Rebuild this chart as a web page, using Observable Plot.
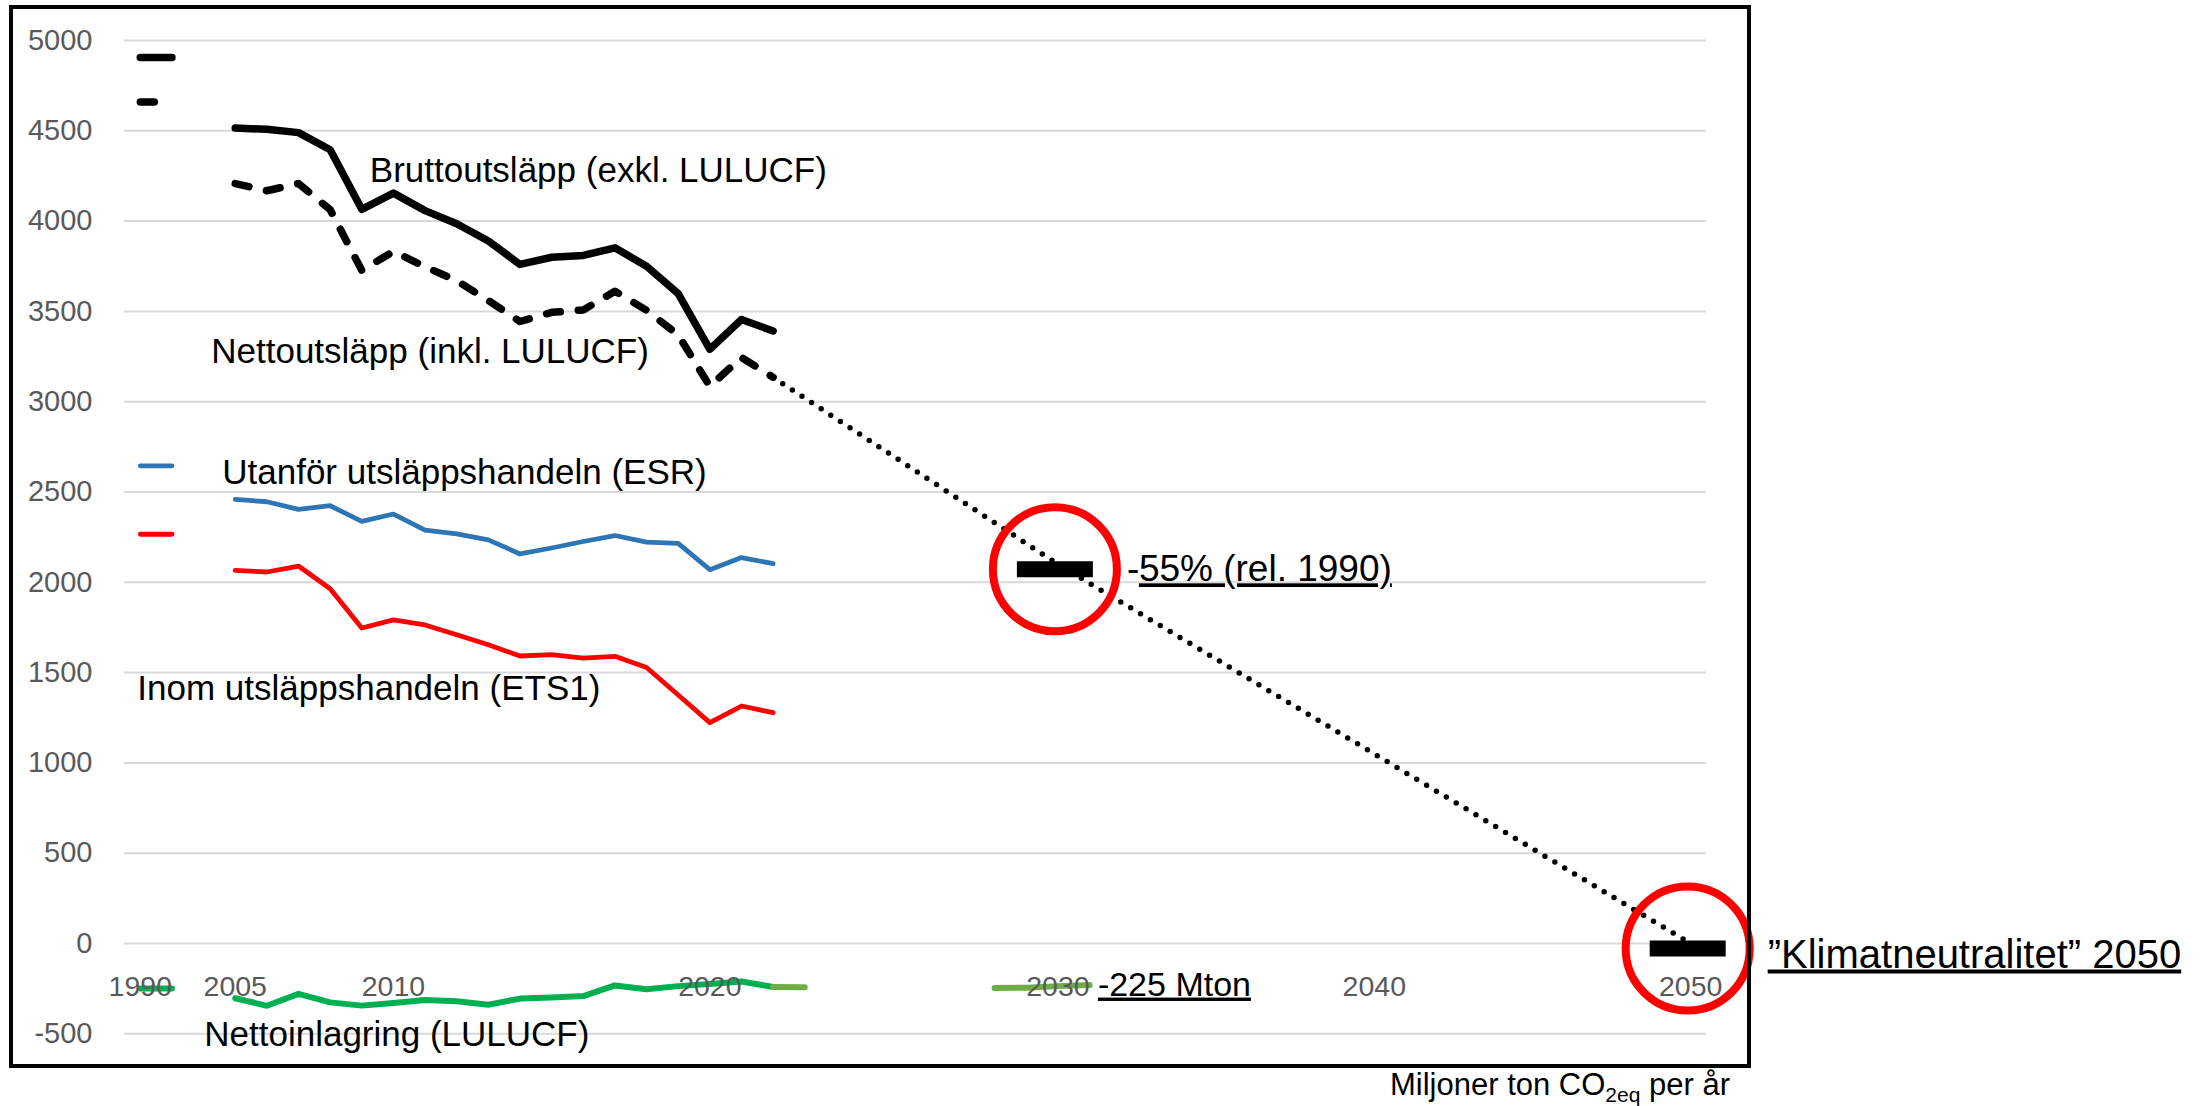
<!DOCTYPE html>
<html>
<head>
<meta charset="utf-8">
<script src="https://cdn.jsdelivr.net/npm/d3@7"></script>
<script src="https://cdn.jsdelivr.net/npm/@observablehq/plot@0.6"></script>
<style>
  html, body { margin: 0; padding: 0; background: #fff; }
  #wrap { position: relative; width: 2208px; height: 1106px; background: #fff; overflow: hidden; }
  #chart { position: absolute; left: 0; top: 0; }
  #border { position: absolute; left: 9px; top: 5px; width: 1742px; height: 1063px; border: 4.5px solid #000; box-sizing: border-box; pointer-events: none; }
  #caption { position: absolute; right: 478px; top: 1070px; font-family: "Liberation Sans", Arial, sans-serif; font-size: 31px; line-height: 30px; color: #000; white-space: nowrap; }
  #caption sub { font-size: 21px; vertical-align: -7px; line-height: 0; }
</style>
</head>
<body>
<div id="wrap">
  <div id="chart"></div>
  <div id="border"></div>
  <div id="caption">Miljoner ton CO<sub>2eq</sub> per år</div>
</div>
<script>
// ---- Data (Mt CO2eq per year) ----
const histYears = ["2005","2006","2007","2008","2009","2010","2011","2012","2013","2014","2015","2016","2017","2018","2019","2020","2021","2022"];
const futureYears = d3.range(2023, 2051).map(String);
// Excel-style category axis: 1990 shown as a short dash over two slots, a blank slot, then yearly categories
const categories = ["1990", "1990b", "gap", ...histYears, "2022b", ...futureYears];
const xTickLabels = ["1990", "2005", "2010", "2020", "2030", "2040", "2050"];
const yTicks = [-500, 0, 500, 1000, 1500, 2000, 2500, 3000, 3500, 4000, 4500, 5000];

const gross  = [4515, 4508, 4490, 4395, 4065, 4155, 4058, 3985, 3890, 3760, 3800, 3810, 3852, 3750, 3598, 3290, 3455, 3392];
const net    = [4208, 4168, 4208, 4063, 3727, 3832, 3747, 3670, 3560, 3444, 3495, 3508, 3612, 3506, 3370, 3085, 3245, 3135];
const esr    = [2459, 2446, 2404, 2424, 2337, 2378, 2289, 2268, 2235, 2157, 2190, 2226, 2259, 2222, 2215, 2070, 2137, 2103];
const ets    = [2066, 2057, 2090, 1964, 1747, 1792, 1764, 1710, 1654, 1592, 1599, 1580, 1590, 1528, 1376, 1223, 1315, 1278];
const lulucf = [-303, -345, -279, -326, -344, -329, -313, -320, -339, -305, -299, -291, -232, -253, -236, -224, -210, -241];

const gross1990 = 4906, net1990 = 4660, esr1990 = 2645, ets1990 = 2266, lulucf1990 = -249;

const lulucfBridgeCats = ["2022", "2022b"];
const lulucfBridge = [-241, -242];
const lulucfTargetCats = ["2028", "2029", "2030", "2031"];
const lulucfTarget = [-247, -245, -236, -230];

// Path to the targets: net 2022 -> -55% in 2030 -> climate neutrality 2050
const pathCats = ["2022", "2030", "2050"];
const pathValues = [3135, 2100, 0];

const targetCats = ["2030", "2050"];
const targetValues = [2100, 0];

// ---- Tables ----
function series(v1990, values) {
  return [
    {cat: "1990", v: v1990, seg: 0},
    {cat: "1990b", v: v1990, seg: 0},
    ...histYears.map((c, i) => ({cat: c, v: values[i], seg: 1}))
  ];
}
const pairs = (cats, vals) => cats.map((c, i) => ({cat: c, v: vals[i]}));

const grossT = series(gross1990, gross);
const netT = series(net1990, net);
const esrT = series(esr1990, esr);
const etsT = series(ets1990, ets);
const lulucfT = series(lulucf1990, lulucf);
const bridgeT = pairs(lulucfBridgeCats, lulucfBridge);
const targetLuT = pairs(lulucfTargetCats, lulucfTarget);
const pathT = pairs(pathCats, pathValues);
const targetsT = pairs(targetCats, targetValues);

const barSymbol = {
  draw(ctx) {
    ctx.moveTo(-38, -3); ctx.lineTo(38, -3); ctx.lineTo(38, 13); ctx.lineTo(-38, 13); ctx.closePath();
  }
};

const FONT = '"Liberation Sans", Arial, sans-serif';
const lineOpts = {x: "cat", y: "v", strokeLinecap: "round", strokeLinejoin: "round"};

function label(text, cat, v, dx, size) {
  return Plot.text([{cat, v, text}], {x: "cat", y: "v", text: "text", dx, textAnchor: "start", fontSize: size, fill: "#000", fontFamily: FONT});
}

const chart = Plot.plot({
  width: 2208,
  height: 1070,
  marginLeft: 124,
  marginRight: 502,
  marginTop: 40,
  marginBottom: 36.7,
  style: {fontFamily: FONT, fontSize: "29px", color: "#595959", background: "transparent", overflow: "visible"},
  x: {type: "point", domain: categories, padding: 0.5, axis: null},
  y: {domain: [-500, 5000], ticks: yTicks, tickSize: 0, tickPadding: 32, tickFormat: d => String(d), label: null},
  marks: [
    Plot.ruleY(yTicks, {stroke: "#d9d9d9", strokeWidth: 2}),
    Plot.line(lulucfT, {...lineOpts, z: "seg", stroke: "#00B050", strokeWidth: 6}),
    Plot.line(bridgeT, {...lineOpts, stroke: "#70AD47", strokeWidth: 6}),
    Plot.line(targetLuT, {...lineOpts, stroke: "#70AD47", strokeWidth: 6}),
    Plot.line(esrT, {...lineOpts, z: "seg", stroke: "#2E75B6", strokeWidth: 4.8}),
    Plot.line(etsT, {...lineOpts, z: "seg", stroke: "#FF0000", strokeWidth: 4.8}),
    Plot.line(grossT, {...lineOpts, z: "seg", stroke: "#000", strokeWidth: 7.5}),
    Plot.line(netT, {...lineOpts, z: "seg", stroke: "#000", strokeWidth: 7.5, strokeDasharray: "14,18"}),
    Plot.line(pathT, {...lineOpts, stroke: "#000", strokeWidth: 5.5, strokeDasharray: "0,11.5"}),
    Plot.dot(targetsT, {x: "cat", y: "v", symbol: barSymbol, fill: "#000", stroke: "none", dx: -3}),
    Plot.dot(targetsT, {x: "cat", y: "v", r: 62, stroke: "#FF0000", strokeWidth: 8, fill: "none", dx: -3, dy: 5}),
    Plot.text(xTickLabels, {x: d => d, y: 0, text: d => d, dy: 43, fontSize: 28.5, fill: "#595959", fontFamily: FONT}),
    label("Bruttoutsläpp (exkl. LULUCF)", "2009", 4276, 8, 35),
    label("Nettoutsläpp (inkl. LULUCF)", "2005", 3274, -24, 35),
    label("Utanför utsläppshandeln (ESR)", "2005", 2604, -13, 35),
    label("Inom utsläppshandeln (ETS1)", "1990", 1408, -3, 35),
    label("Nettoinlagring (LULUCF)", "2005", -503, -31, 35),
    label("-", "2030", 2071, 69, 37),
    label("55% (rel. 1990)", "2030", 2071, 81, 37),
    label("-225 Mton", "2030", -228, 40, 34),
    label("”Klimatneutralitet” 2050", "2050", -62, 77, 40)
  ]
});

const underlined = new Set(["55% (rel. 1990)", "-225 Mton", "”Klimatneutralitet” 2050"]);
d3.select(chart).selectAll("text").each(function() {
  if (underlined.has(this.textContent)) this.style.textDecoration = "underline";
});

document.getElementById("chart").appendChild(chart);
</script>
</body>
</html>
